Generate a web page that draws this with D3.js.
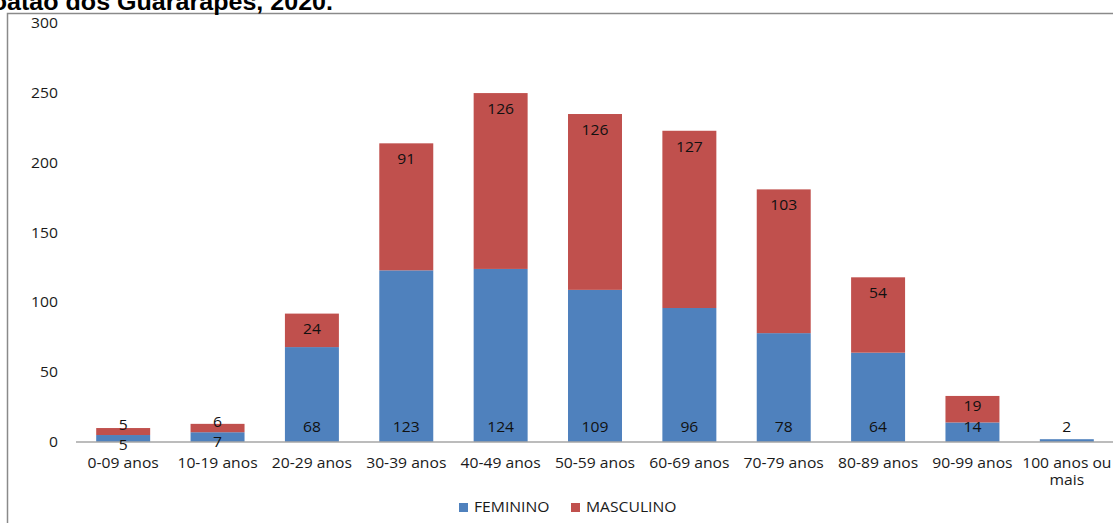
<!DOCTYPE html>
<html>
<head>
<meta charset="utf-8">
<script src="https://cdn.jsdelivr.net/npm/d3@7"></script>
<style>
  body { margin: 0; background: #fff; }
  svg { display: block; }
  text { font-family: "Open Sans", sans-serif; }
</style>
</head>
<body>
<script>
// faixas etarias
var categories = ["0-09 anos", "10-19 anos", "20-29 anos", "30-39 anos", "40-49 anos", "50-59 anos",
                  "60-69 anos", "70-79 anos", "80-89 anos", "90-99 anos", "100 anos ou|mais"];
var feminino  = [5, 7, 68, 123, 124, 109, 96, 78, 64, 14, 2];
var masculino = [5, 6, 24, 91, 126, 126, 127, 103, 54, 19, 0];
var yTicks = [0, 50, 100, 150, 200, 250, 300];
var seriesNames = ["FEMININO", "MASCULINO"];

var width = 1113, height = 523;
var stretch = 1.12; // the original picture is a bit wide

var svg = d3.select("body").append("svg")
    .attr("width", width)
    .attr("height", height);

// frame, only left and top visible
svg.append("rect")
    .attr("x", 7.5).attr("y", 13.5)
    .attr("width", 2000).attr("height", 2000)
    .attr("fill", "none")
    .attr("stroke", "#8a8a8a")
    .attr("stroke-width", 1.5);

// title, clipped on the left like the source
svg.append("text")
    .attr("transform", "translate(333,10) scale(1.09,1)")
    .attr("text-anchor", "end")
    .style("font-family", "'Liberation Sans', Arial, sans-serif")
    .style("font-weight", "bold")
    .style("font-size", "23px")
    .attr("fill", "#000")
    .text("Jaboatão dos Guararapes, 2020.");

var x = d3.scaleBand()
    .domain(categories)
    .range([76, 1114])
    .paddingInner(0.428)
    .paddingOuter(0.214);

var y = d3.scaleLinear()
    .domain([0, 300])
    .range([442, 23.3]);

function sText(sel, tx, ty) {
  return sel.attr("transform", "translate(" + tx + "," + ty + ") scale(" + stretch + ",1)");
}

// y tick labels
svg.selectAll(".ytick")
    .data(yTicks)
  .enter().append("text")
    .attr("class", "ytick")
    .each(function(d) { sText(d3.select(this), 58, y(d)); })
    .attr("dy", "0.35em")
    .attr("text-anchor", "end")
    .style("font-size", "14px")
    .attr("fill", "#1a1a1a")
    .text(function(d) { return d; });

var rows = categories.map(function(c, i) {
  return { cat: c, f: feminino[i], m: masculino[i] };
});

// feminino bars
svg.selectAll(".barF")
    .data(rows)
  .enter().append("rect")
    .attr("class", "barF")
    .attr("x", function(d) { return x(d.cat); })
    .attr("width", x.bandwidth())
    .attr("y", function(d) { return y(d.f); })
    .attr("height", function(d) { return y(0) - y(d.f); })
    .attr("fill", "#4f81bd");

// masculino bars, stacked
svg.selectAll(".barM")
    .data(rows.filter(function(d) { return d.m > 0; }))
  .enter().append("rect")
    .attr("class", "barM")
    .attr("x", function(d) { return x(d.cat); })
    .attr("width", x.bandwidth())
    .attr("y", function(d) { return y(d.f + d.m); })
    .attr("height", function(d) { return y(d.f) - y(d.f + d.m); })
    .attr("fill", "#c0504d");

// x axis line
svg.append("line")
    .attr("x1", 76).attr("x2", width)
    .attr("y1", y(0)).attr("y2", y(0))
    .attr("stroke", "#a6a6a6")
    .attr("stroke-width", 1.5);

// value labels
rows.forEach(function(d) {
  var cx = x(d.cat) + x.bandwidth() / 2;
  var fy = (d.m > 0 && d.f < 10) ? y(d.f) + 10 : y(0) - 15;
  sText(svg.append("text"), cx, fy)
      .attr("dy", "0.35em")
      .attr("text-anchor", "middle")
      .style("font-size", "14px")
      .attr("fill", "#111")
      .text(d.f);
  if (d.m > 0) {
    var top = y(d.f + d.m);
    var h = y(d.f) - top;
    sText(svg.append("text"), cx, top + Math.min(16, h * 0.7 - 8))
        .attr("dy", "0.35em")
        .attr("text-anchor", "middle")
        .style("font-size", "14px")
        .attr("fill", "#111")
        .text(d.m);
  }
});

// x tick labels
categories.forEach(function(c) {
  var cx = x(c) + x.bandwidth() / 2;
  c.split("|").forEach(function(line, j) {
    sText(svg.append("text"), cx, 463 + j * 17)
        .attr("dy", "0.35em")
        .attr("text-anchor", "middle")
        .style("font-size", "14px")
        .attr("fill", "#1a1a1a")
        .text(line);
  });
});

// legend
var legendColors = ["#4f81bd", "#c0504d"];
var legendX = [459, 571];
seriesNames.forEach(function(name, i) {
  svg.append("rect")
      .attr("x", legendX[i]).attr("y", 503)
      .attr("width", 9).attr("height", 9)
      .attr("fill", legendColors[i]);
  sText(svg.append("text"), legendX[i] + 15, 507.5)
      .attr("dy", "0.35em")
      .style("font-size", "14px")
      .attr("fill", "#1a1a1a")
      .text(name);
});
</script>
</body>
</html>
